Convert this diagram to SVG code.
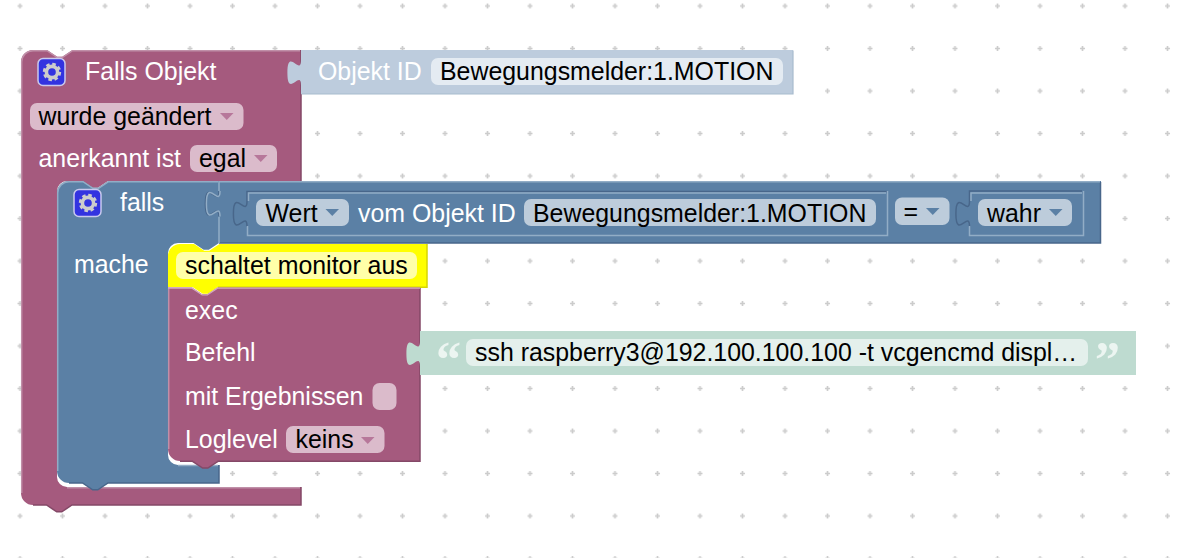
<svg xmlns="http://www.w3.org/2000/svg" width="1180" height="558" viewBox="0 0 1180 558">
<style>
text{font-family:"Liberation Sans",Arial,sans-serif;font-size:24.9px;transform:translateY(.6px)}
.w{fill:#fff}.k{fill:#000}
.pu{fill:#a55a7e}.bl{fill:#5b80a5}
.fp{fill:#dbbbcb}.fb{fill:#bdccdb}.fl{fill:#e4ebf2}.fg{fill:#e4f0ec}
.ap{fill:#b7779a}.ab{fill:#5b80a5}
.dp{fill:none;stroke:#844867;stroke-width:1.5}.lp{fill:none;stroke:#c08fa8;stroke-width:1.5}
.db{fill:none;stroke:#48668a;stroke-width:1.5}.lb{fill:none;stroke:#92adc6;stroke-width:1.5}
.btn{fill:#3333e0;stroke:#c9c9ee;stroke-width:1.5}
.cog{fill:none;stroke:#ccc}
.q{font-family:"Liberation Serif",serif;font-size:50px;font-weight:bold;fill:#ecf5f1}
</style>
<defs>
<pattern id="grid" patternUnits="userSpaceOnUse" x="-1.25" y="-15.25" width="42.5" height="42.5">
<path d="M18.75,21.25h5M21.25,18.75v5" stroke="#ccc" stroke-width="1.7" fill="none"/>
</pattern>
<g id="gear">
<circle cx="0" cy="0" r="5.6" class="cog" stroke-width="3.6"/>
<circle cx="0" cy="0" r="7.6" fill="none" stroke="#ccc" stroke-width="3.2" stroke-dasharray="3.4 2.57"/>
</g>
</defs>
<rect width="1180" height="558" fill="#fff"/>
<rect width="1180" height="558" fill="url(#grid)"/>

<g id="falls-objekt">
<path class="pu" d="M21,62A12,12 0 0 1 33,50H47l10.2,6.8 5.1,0 10.2,-6.8H301V181H108l-10.2,6.8 -5.1,0 -10.2,-6.8H67A10,10 0 0 0 57,191V477A10,10 0 0 0 67,487H301V505H72l-10.2,6.8 -5.1,0 -10.2,-6.8H33A12,12 0 0 1 21,493Z"/>
<path class="dp" d="M301,50V181M301,487V505H72l-10.2,6.8 -5.1,0 -10.2,-6.8H33"/>
<path class="lp" d="M21.7,493V62A11.5,11.5 0 0 1 33,50.7H47l10.2,6.8 5.1,0 10.2,-6.8H300M67,487.7H300"/>
<rect class="btn" x="38" y="58.5" width="27" height="27" rx="5"/>
<use href="#gear" x="52" y="72"/>
<text class="w" x="85" y="79">Falls Objekt</text>
<rect class="fp" x="30" y="103" width="213.500" height="27" rx="7"/>
<text class="k" x="38.500" y="124">wurde geändert</text>
<path class="ap" d="M220,113h13.500l-6.750,7z"/>
<text class="w" x="38.500" y="166">anerkannt ist</text>
<rect class="fp" x="190" y="145" width="87" height="27" rx="7"/>
<text class="k" x="199" y="166">egal</text>
<path class="ap" d="M254,155h13.500l-6.750,7z"/>
</g>

<g id="objekt-id">
<path fill="#bdccdd" d="M301,50H793V94H301V85.500c0,-17 -13.600,13.600 -13.600,-12.750s13.600,4.250 13.600,-12.750Z"/>
<path fill="none" stroke="#a8bbce" stroke-width="1.200" d="M793,50.500V94H301.500"/>
<text class="w" x="318" y="79">Objekt ID</text>
<rect class="fl" x="431" y="58" width="352" height="27" rx="7"/>
<text class="k" x="440" y="79">Bewegungsmelder:1.MOTION</text>
</g>

<g id="falls">
<path class="bl" d="M57,193A12,12 0 0 1 69,181H83l10.200,6.800 5.100,0 10.200,-6.800H219V243l-10.200,6.800 -5.100,0 -10.200,-6.800H178A10,10 0 0 0 168,253V455A10,10 0 0 0 178,465H219V483H108l-10.200,6.800 -5.100,0 -10.200,-6.800H69A12,12 0 0 1 57,471Z"/>
<path class="db" d="M219,465V483H108l-10.200,6.800 -5.100,0 -10.200,-6.800H69"/>
<path class="lb" d="M57.700,471V193A11.500,11.500 0 0 1 69,181.700H83l10.200,6.800 5.100,0 10.200,-6.800H218M178,465.600H218"/>
<rect class="btn" x="74" y="189.500" width="27" height="27" rx="5"/>
<use href="#gear" x="88" y="203"/>
<text class="w" x="120" y="210">falls</text>
<text class="w" x="74" y="272">mache</text>
</g>

<g id="bedingung">
<path class="bl" d="M219,181H1101V243H219V216.500c0,-17 -13.600,13.600 -13.600,-12.750s13.600,4.250 13.600,-12.750Z"/>
<path class="db" d="M1100.500,182V243H219"/>
<path class="lb" d="M219,243V216.500M219,191V181.700H1100"/>
<path class="db" d="M219,216.500c0,-17 -13.600,13.600 -13.600,-12.750s13.600,4.250 13.600,-12.750"/>
<path class="lb" d="M220,216.500c0,-17 -13.600,13.600 -13.600,-12.750s13.600,4.250 13.600,-12.750" stroke-width="1"/>
<path class="db" d="M247,226.500c0,-17 -13.600,13.600 -13.600,-12.750s13.600,4.250 13.600,-12.750V191.500H887"/>
<path class="lb" d="M248.500,201V193H886M247.500,226V235.500H887.500V191"/>
<rect class="fb" x="256" y="199" width="93" height="27" rx="7"/>
<text class="k" x="265.500" y="221">Wert</text>
<path class="ab" d="M325.500,209h13.500l-6.750,7z"/>
<text class="w" x="358" y="221">vom Objekt ID</text>
<rect class="fl" x="524" y="199" width="352" height="27" rx="7" style="fill:#bdccdb"/>
<text class="k" x="533" y="221">Bewegungsmelder:1.MOTION</text>
<rect class="fb" x="895" y="197.500" width="54.500" height="27.500" rx="7"/>
<text class="k" x="903.500" y="219">=</text>
<path class="ab" d="M926,208h13.500l-6.750,7z"/>
<path class="db" d="M969.500,226.500c0,-17 -13.600,13.600 -13.600,-12.750s13.600,4.250 13.600,-12.750V191H1082"/>
<path class="lb" d="M969.500,226V235.500H1083.500V191M971,201V193H1082"/>
<rect class="fb" x="978" y="199" width="94" height="27" rx="7"/>
<text class="k" x="987" y="221">wahr</text>
<path class="ab" d="M1049,209h13.500l-6.750,7z"/>
</g>

<g id="kommentar">
<path fill="#ffff00" d="M168,256A12,12 0 0 1 180,244H194l10.200,6.800 5.100,0 10.200,-6.800H427V287H218l-10.200,6.800 -5.100,0 -10.200,-6.800H168Z"/>
<path fill="none" stroke="#d6d600" stroke-width="1.500" d="M427,244V287.300H218"/>
<rect x="176" y="252" width="241" height="27" rx="7" fill="#ffffa8"/>
<text class="k" x="185" y="273">schaltet monitor aus</text>
</g>

<g id="exec">
<path class="pu" d="M168,287.500H192l10.200,6.800 5.100,0 10.200,-6.800H420V461H218l-10.200,6.800 -5.100,0 -10.200,-6.800H180A12,12 0 0 1 168,449Z"/>
<path class="dp" d="M420,288V461.300H218l-10.200,6.800 -5.100,0 -10.200,-6.800H180"/>
<path class="lp" d="M168.700,449V288"/>
<path fill="none" stroke="#d4a9bf" stroke-width="1.200" d="M168,288.200H192l10.200,6.800 5.100,0 10.200,-6.800H420"/>
<text class="w" x="185" y="318">exec</text>
<text class="w" x="185" y="360">Befehl</text>
<text class="w" x="185" y="404">mit Ergebnissen</text>
<rect class="fp" x="372.500" y="383" width="24" height="27" rx="7"/>
<text class="w" x="185" y="447">Loglevel</text>
<rect class="fp" x="286" y="426" width="98.500" height="27" rx="7"/>
<text class="k" x="295.500" y="447">keins</text>
<path class="ap" d="M361,437h13.500l-6.750,7z"/>
</g>

<g id="text-wert">
<path fill="#bedbd0" d="M420,331H1136V375H420V366.500c0,-17 -13.600,13.600 -13.600,-12.750s13.600,4.250 13.600,-12.750Z"/>
<text class="q" x="436" y="375">“</text>
<rect class="fg" x="466" y="339" width="622" height="27" rx="7"/>
<text class="k" x="475" y="360">ssh raspberry3@192.100.100.100 -t vcgencmd displ…</text>
<text class="q" x="1095" y="375">”</text>
</g>
</svg>
